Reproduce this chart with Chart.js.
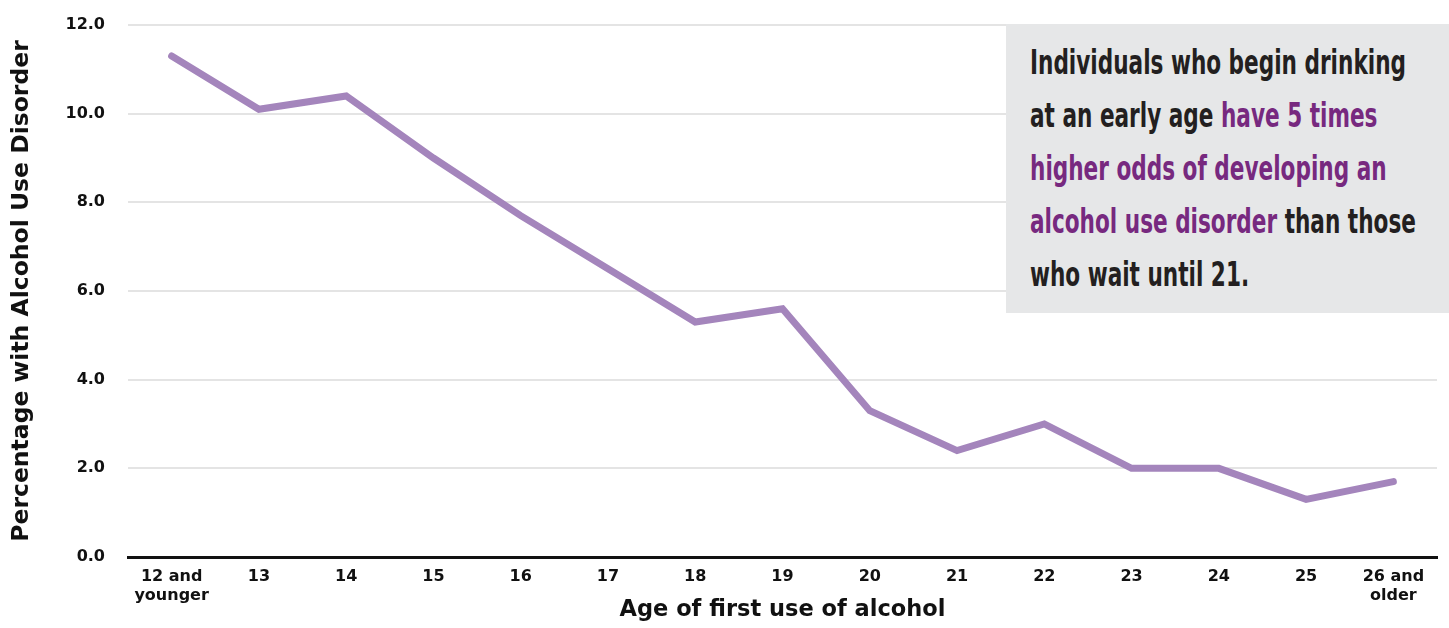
<!DOCTYPE html>
<html>
<head>
<meta charset="utf-8">
<script src="https://cdn.jsdelivr.net/npm/chart.js@4"></script>
<style>
  html, body { margin: 0; padding: 0; background: #fff; }
  #wrap { position: relative; width: 1449px; height: 628px; overflow: hidden; }
  #note {
    position: absolute; left: 1006px; top: 24px; width: 443px; height: 289px;
    background: #e6e7e8; box-sizing: border-box; padding: 12px 0 0 24px;
  }
  #noteText {
    font-family: "DejaVu Sans Condensed", "DejaVu Sans", sans-serif;
    font-weight: bold; font-size: 33px; line-height: 53px; color: #231f20;
    white-space: nowrap; transform-origin: left top; display: inline-block;
  }
  #noteText .hl { color: #77297f; }
</style>
</head>
<body>
<div id="wrap">
  <canvas id="ageChart" width="1449" height="628"></canvas>
  <div id="note"><div id="noteText"><span id="firstLine">Individuals who begin drinking</span><br>at an early age <span class="hl">have 5 times<br>higher odds of developing an<br>alcohol use disorder</span> than those<br>who wait until 21.</div></div>
</div>
<script>
// Age of first use vs percentage with AUD
const ageLabels = [
  ["12 and", "younger"], "13", "14", "15", "16", "17", "18", "19",
  "20", "21", "22", "23", "24", "25", ["26 and", "older"],
];
const audPercent = [11.3, 10.1, 10.4, 9.0, 7.7, 6.5, 5.3, 5.6, 3.3, 2.4, 3.0, 2.0, 2.0, 1.3, 1.7];
const yTicks = [0, 2, 4, 6, 8, 10, 12];

// squeeze the callout text to a condensed look
const noteText = document.getElementById("noteText");
const firstW = document.getElementById("firstLine").getBoundingClientRect().width;
noteText.style.transform = "scaleX(" + (376 / firstW) + ")";

const axisFont = "'DejaVu Sans', 'Liberation Sans', sans-serif";

const ctxAge = document.getElementById("ageChart").getContext("2d");
const ageChart = new Chart(ctxAge, {
  type: "line",
  data: {
    labels: ageLabels,
    datasets: [
      {
        label: "Percentage with Alcohol Use Disorder",
        data: audPercent,
        borderColor: "#a485bc",
        borderWidth: 7,
        pointRadius: 0,
        borderCapStyle: "round",
        tension: 0,
        fill: false,
      },
    ],
  },
  options: {
    responsive: false,
    animation: false,
    layout: { padding: { top: 25, right: 12, left: 0, bottom: 3 } },
    scales: {
      x: {
        offset: true,
        afterFit: (axis) => { axis.height = 68; },
        grid: { display: false, drawTicks: false },
        border: { display: true, color: "#111", width: 3 },
        ticks: {
          color: "#111",
          font: { family: axisFont, size: 16, weight: "bold" },
          maxRotation: 0,
          autoSkip: false,
          padding: 10,
          lineHeight: 1.4,
        },
        title: {
          display: true,
          text: "Age of first use of alcohol",
          color: "#111",
          font: { family: axisFont, size: 22.5, weight: "bold" },
          padding: { top: 0, bottom: 1 },
        },
      },
      y: {
        min: 0,
        max: 12,
        afterFit: (axis) => {
          axis.width = 128;
          axis.paddingTop = 0;
          axis.paddingBottom = 0;
        },
        afterBuildTicks: (axis) => { axis.ticks = yTicks.map((v) => ({ value: v })); },
        grid: { color: "#e4e4e4", lineWidth: 2, drawTicks: false },
        border: { display: false },
        ticks: {
          color: "#111",
          font: { family: axisFont, size: 16, weight: "bold" },
          padding: 23,
          callback: (v) => v.toFixed(1),
        },
        title: {
          display: true,
          text: "Percentage with Alcohol Use Disorder",
          color: "#111",
          font: { family: axisFont, size: 23.5, weight: "bold" },
          padding: { top: 8, bottom: 0 },
        },
      },
    },
    plugins: {
      legend: { display: false },
      tooltip: { enabled: false },
    },
  },
});
</script>
</body>
</html>
